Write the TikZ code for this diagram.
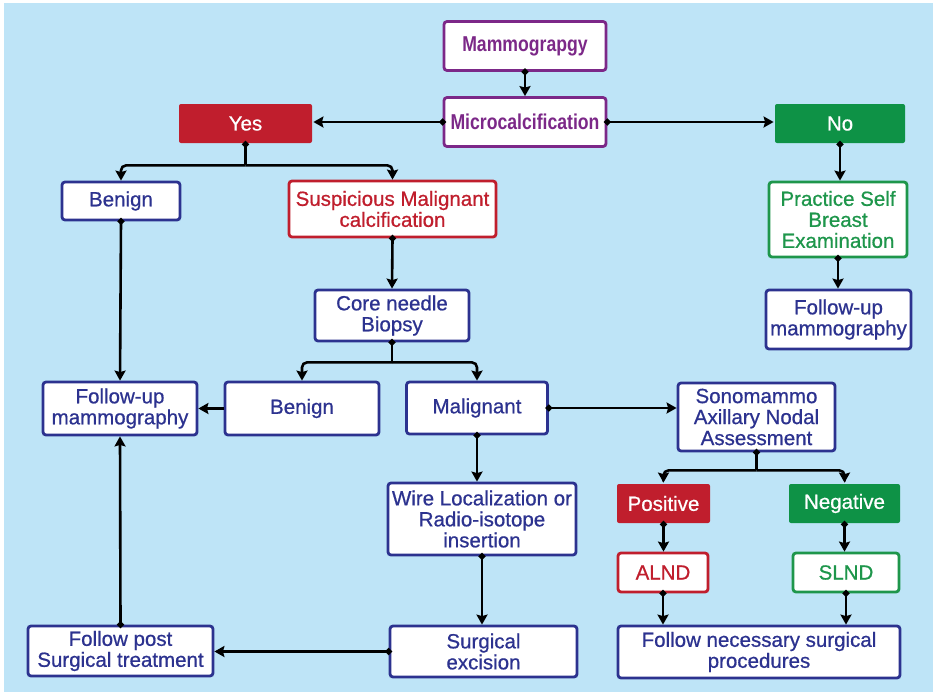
\documentclass[tikz,border=0pt]{standalone}
\usepackage{fontspec}
\setmainfont{Liberation Sans}
\newfontfamily\medf{Liberation Sans}[FakeBold=0.7]
\newfontfamily\condf{Liberation Sans}[FakeStretch=0.82]
\usetikzlibrary{arrows.meta}
\definecolor{bgblue}{RGB}{190,228,247}
\definecolor{nblue}{RGB}{44,50,143}
\definecolor{purp}{RGB}{124,40,136}
\definecolor{nred}{RGB}{192,30,45}
\definecolor{ngreen}{RGB}{14,146,70}
\definecolor{tgreen}{RGB}{30,150,75}
\tikzset{
  box/.style={draw=nblue, line width=2.8pt, fill=white, rounded corners=3pt, text=nblue,
    align=center, inner sep=0pt, font=\fontsize{20.5}{21}\medf},
  pbox/.style={box, draw=purp, text=purp, font=\fontsize{21.5}{22}\condf\bfseries},
  rbox/.style={box, draw=nred, text=nred},
  gbox/.style={box, draw=tgreen, text=tgreen},
  rfill/.style={box, draw=none, fill=nred, text=white, rounded corners=2pt},
  gfill/.style={box, draw=none, fill=ngreen, text=white, rounded corners=2pt},
  sz/.style 2 args={minimum width=#1pt, minimum height=#2pt},
  conn/.style={draw=black, line width=2.6pt, rounded corners=5pt,
    {Circle[length=6.5pt]}-{Stealth[length=10pt,width=11pt,inset=1.5pt]}, shorten <=-3.25pt},
  dotl/.style={draw=black, line width=2.6pt, {Circle[length=6.5pt]}-, shorten <=-3.25pt},
  arr/.style={draw=black, line width=2.6pt, rounded corners=5pt,
    -{Stealth[length=10pt,width=11pt,inset=1.5pt]}},
}
\begin{document}
\begin{tikzpicture}[x=1pt,y=-1pt]
\fill[white] (0,0) rectangle (937,696);
\fill[bgblue] (4,3) rectangle (933,692);
\useasboundingbox (0,0) rectangle (937,696);

\node[pbox, sz={162}{49}] (mammo) at (525,46) {Mammograpgy};
\node[pbox, sz={162}{49}] (micro) at (525,122) {Microcalcification};
\node[rfill, sz={133}{39}] (yes) at (245.5,123.5) {Yes};
\node[gfill, sz={130}{39}] (no) at (840,123.5) {No};
\node[box, sz={118}{38}] (benL) at (121,201) {Benign};
\node[rbox, sz={207}{56}] (susp) at (392.5,209) {Suspicious Malignant\\calcification};
\node[box, sz={154}{51}] (core) at (392,315.5) {Core needle\\Biopsy};
\node[box, sz={154}{53}] (fuL) at (120,408.5) {Follow-up\\mammography};
\node[box, sz={154}{53}] (benM) at (302,408.5) {Benign};
\node[box, sz={141}{52}] (mal) at (477,408) {Malignant};
\node[box, sz={157}{68}] (sono) at (756.5,417) {Sonomammo\\Axillary Nodal\\Assessment};
\node[gbox, sz={138}{75}] (pract) at (838,219.5) {Practice Self\\Breast\\Examination};
\node[box, sz={145}{59}] (fuR) at (838.5,319.5) {Follow-up\\mammography};
\node[box, sz={188}{72}] (wire) at (482,519) {Wire Localization or\\Radio-isotope\\insertion};
\node[rfill, sz={93}{39}] (pos) at (663.5,503.5) {Positive};
\node[gfill, sz={111}{39}] (neg) at (844.5,503.5) {Negative};
\node[rbox, sz={90}{39}] (alnd) at (663,572.5) {ALND};
\node[gbox, sz={106}{39}] (slnd) at (846,572.5) {SLND};
\node[box, sz={185}{50}] (fpost) at (120.5,651) {Follow post\\Surgical treatment};
\node[box, sz={187}{51}] (surg) at (483.5,651.5) {Surgical\\excision};
\node[box, sz={282}{52}] (fnec) at (759,652) {Follow necessary surgical\\procedures};

\draw[conn] (mammo.south) -- (micro.north);
\draw[conn] (micro.west) -- (micro.west -| yes.east);
\draw[conn] (micro.east) -- (micro.east -| no.west);
\draw[dotl] (yes.south) -- ++(0,21) coordinate (j1);
\draw[arr] (j1) -| (benL.north);
\draw[arr] (j1) -| (susp.north);
\draw[conn] (benL.south) -- (fuL.north);
\draw[conn] (susp.south) -- (core.north);
\draw[dotl] (core.south) -- ++(0,20) coordinate (j2);
\draw[arr] (j2) -| (benM.north);
\draw[arr] (j2) -| (mal.north);
\draw[arr] (benM.west) -- (fuL.east);
\draw[conn] (mal.east) -- (mal.east -| sono.west);
\draw[conn] (mal.south) -- (mal.south |- wire.north);
\draw[conn] (wire.south) -- (wire.south |- surg.north);
\draw[conn] (surg.west) -- (surg.west -| fpost.east);
\draw[conn] (fpost.north) -- (fuL.south);
\draw[dotl] (sono.south) -- ++(0,18) coordinate (j3);
\draw[arr] (j3) -| (pos.north);
\draw[arr] (j3) -| (neg.north);
\draw[conn] (pos.south) -- (pos.south |- alnd.north);
\draw[conn] (neg.south) -- (neg.south |- slnd.north);
\draw[conn] (alnd.south) -- (alnd.south |- fnec.north);
\draw[conn] (slnd.south) -- (slnd.south |- fnec.north);
\draw[conn] (no.south) -- (no.south |- pract.north);
\draw[conn] (pract.south) -- (pract.south |- fuR.north);
\end{tikzpicture}
\end{document}
